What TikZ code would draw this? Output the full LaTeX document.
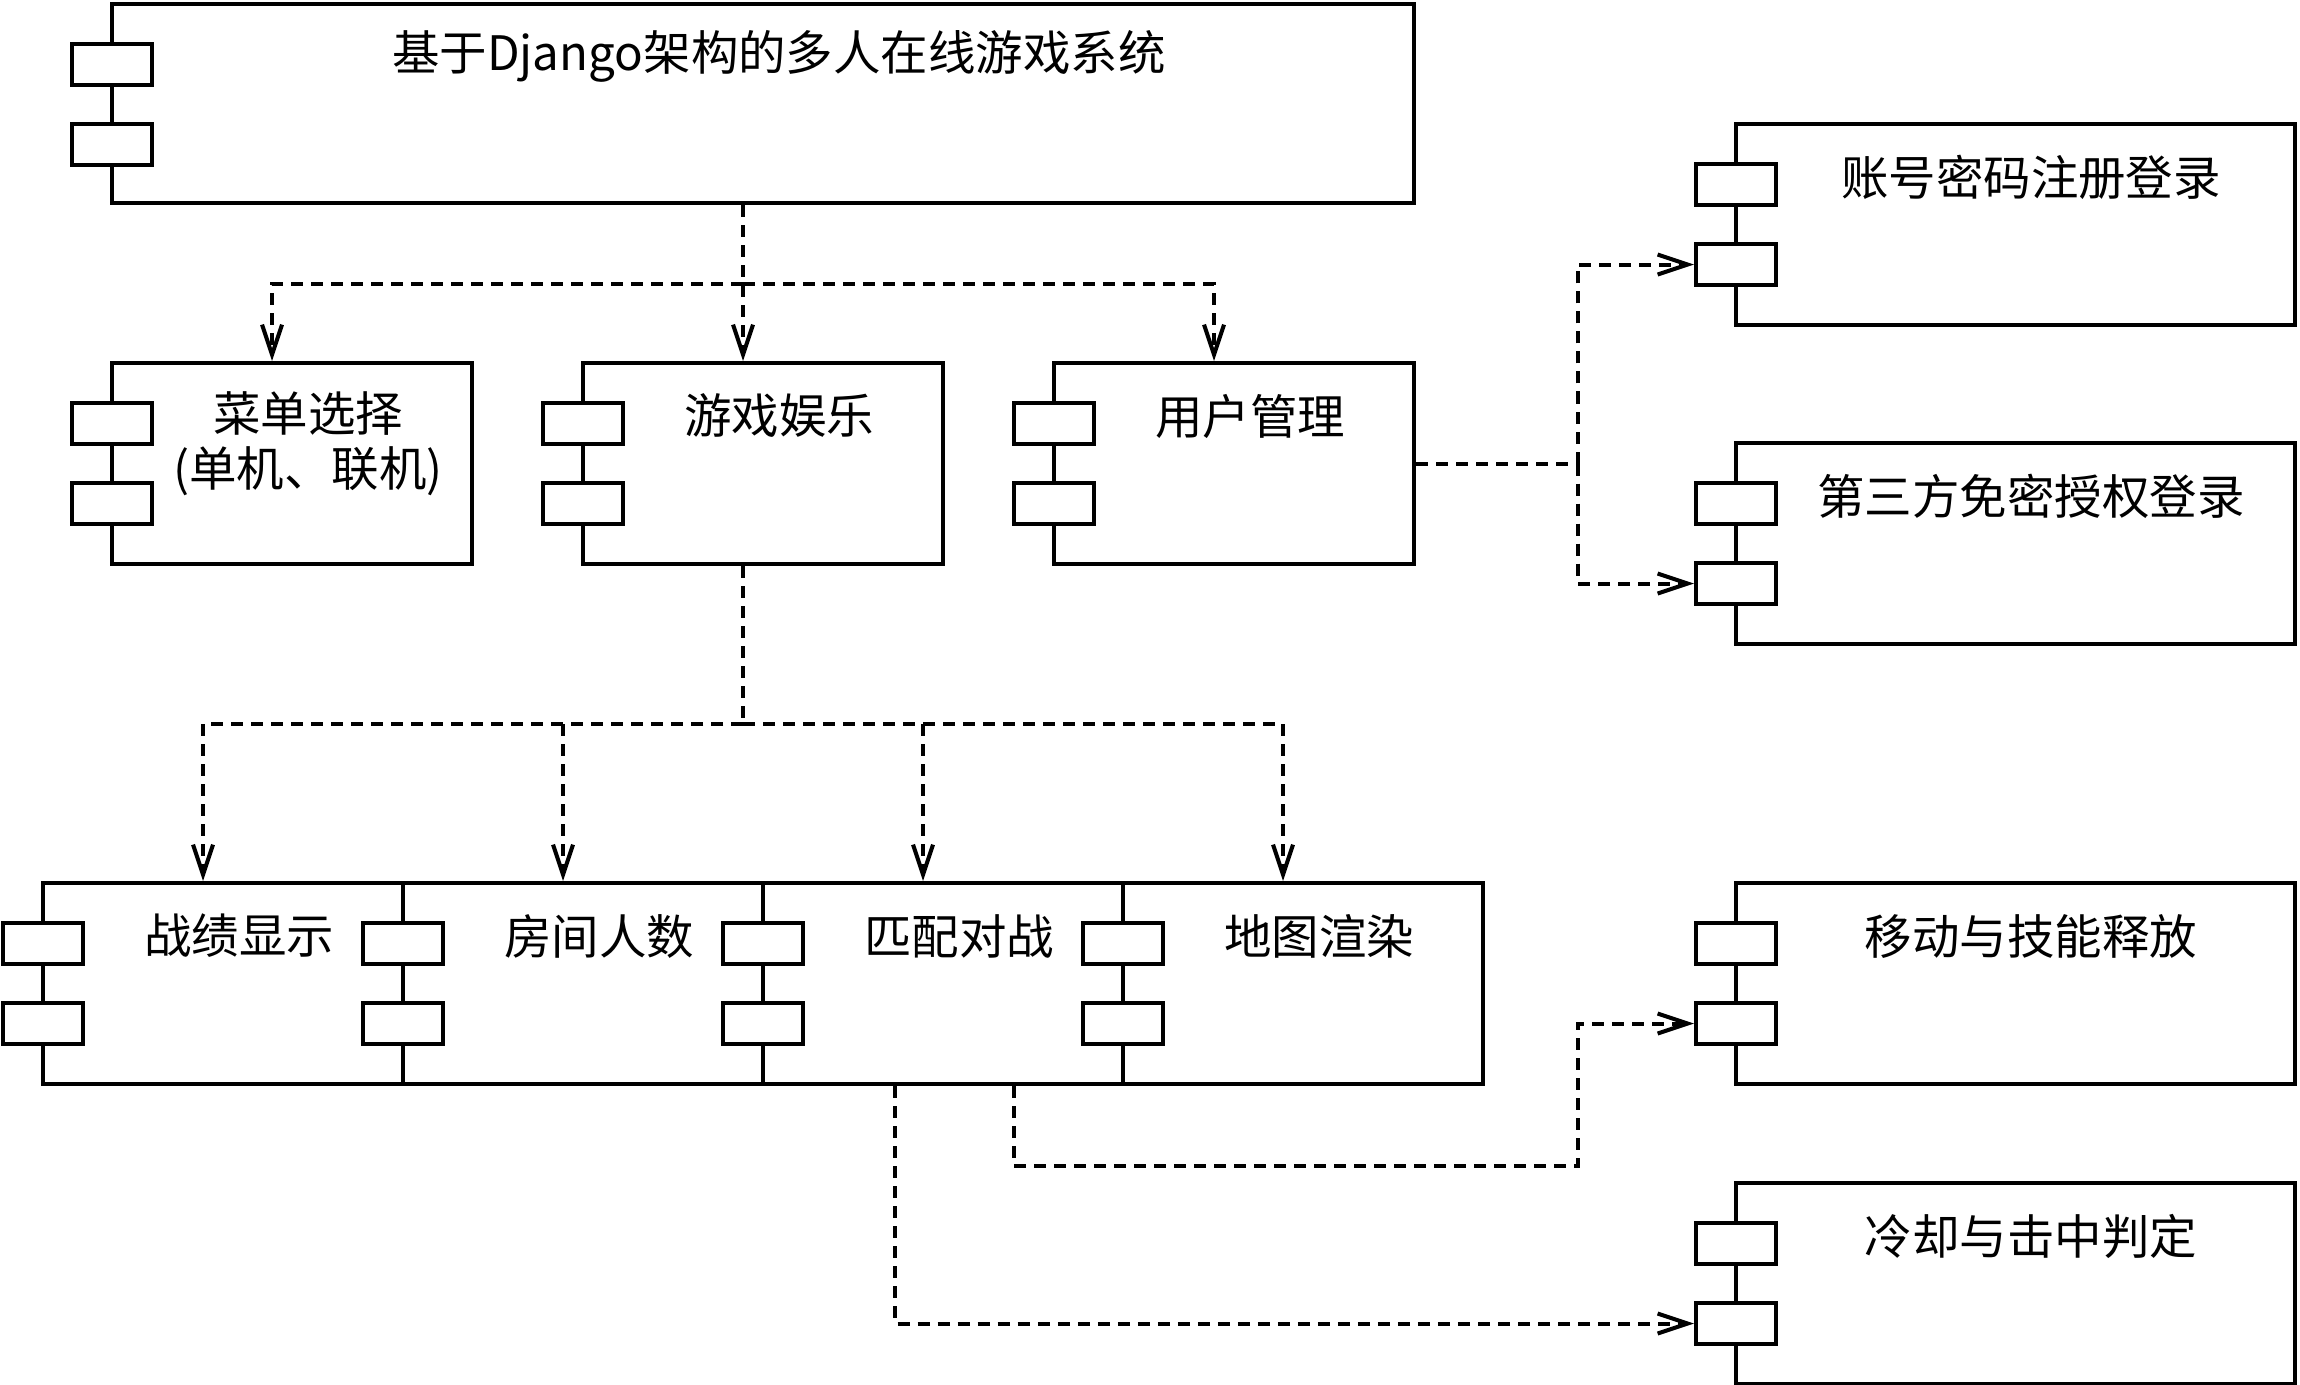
\documentclass[tikz,border=0pt]{standalone}
\usepackage{fontspec}
\setmainfont{Noto Sans CJK SC}
\usetikzlibrary{arrows.meta,calc}
\begin{document}
\begin{tikzpicture}[x=0.01cm,y=-0.01cm,
  lw/.style={line width=1.15pt},
  comp/.style={draw,lw,fill=white,rectangle,inner sep=0pt,minimum height=2.01cm,anchor=north west},
  port/.style={draw,lw,fill=white,rectangle,inner sep=0pt,minimum width=0.8cm,minimum height=0.41cm,anchor=north west},
  lbl/.style={font=\fontsize{13.5pt}{15.6pt}\selectfont,align=center,anchor=center,inner sep=0pt},
  ln/.style={lw,dash pattern=on 0.12cm off 0.08cm},
  dep/.style={ln,-{Straight Barb[length=0.3cm,width=0.2cm]}}
]
\useasboundingbox (0,0) rectangle (2300,1384);

% component: name, left, top, width, height
\newcommand{\component}[5]{%
  \node[comp,minimum width=#4*0.01cm,minimum height=#5*0.01cm] (#1) at (#2,#3) {};
  \node[port] (#1-p1) at (#2-40,#3+40) {};
  \node[port] (#1-p2) at (#2-40,#3+120) {};
}

% top level system
\component{sys}{110}{2}{1302}{199}
\node[lbl] (sys-t) at (779,56) {基于Django架构的多人在线游戏系统};

% second level
\component{menu}{110}{361}{360}{201}
\component{game}{581}{361}{360}{201}
\component{user}{1052}{361}{360}{201}
\node[lbl] (menu-t) at (308,444) {菜单选择\\(单机、联机)};
\node[lbl] (game-t) at (779,416) {游戏娱乐};
\node[lbl] (user-t) at (1250,416) {用户管理};

% game sub-modules
\component{r1}{41}{881}{360}{201}
\component{r2}{401}{881}{360}{201}
\component{r3}{761}{881}{360}{201}
\component{r4}{1121}{881}{360}{201}
% redraw ports above the neighbouring bodies
\foreach \n in {r2,r3,r4}{
  \node[port] at (\n-p1.north west) {};
  \node[port] at (\n-p2.north west) {};
}
\node[lbl] (r1-t) at (239,936) {战绩显示};
\node[lbl] (r2-t) at (599,936) {房间人数};
\node[lbl] (r3-t) at (959,936) {匹配对战};
\node[lbl] (r4-t) at (1319,936) {地图渲染};

% right column
\component{acct}{1734}{122}{559}{201}
\component{third}{1734}{441}{559}{201}
\component{move}{1734}{881}{559}{201}
\component{cool}{1734}{1181}{559}{201}
\node[lbl] (acct-t) at (2031,177) {账号密码注册登录};
\node[lbl] (third-t) at (2031,496) {第三方免密授权登录};
\node[lbl] (move-t) at (2031,936) {移动与技能释放};
\node[lbl] (cool-t) at (2031,1236) {冷却与击中判定};

% system -> second level
\coordinate (sys-out) at ($(sys.south)+(-20,0)$);
\path (sys-out) ++(0,79) coordinate (j1);
\draw[dep] (sys-out) -- ($(game.north)+(-20,0)$);
\draw[dep] (j1) -| ($(menu.north)+(-20,0)$);
\draw[dep] (j1) -| ($(user.north)+(-20,0)$);

% game -> sub-modules
\coordinate (game-out) at ($(game.south)+(-20,0)$);
\path (game-out) ++(0,158) coordinate (j2);
\draw[ln] (game-out) -- (j2);
\foreach \n in {r1,r2,r3,r4}
  \draw[dep] (j2) -| ($(\n.north)+(-20,0)$);

% user management -> login modes
\path (user.east) ++(162,0) coordinate (j3);
\draw[ln] (user.east) -- (j3);
\draw[dep] (j3) |- (acct-p2.west);
\draw[dep] (j3) |- (third-p2.west);

% match -> movement / cooldown
\coordinate (m-out1) at ($(r3.south)+(71,0)$);
\coordinate (m-out2) at ($(r3.south)+(-48,0)$);
\path (m-out1) ++(0,80) coordinate (k1);
\path (k1 -| j3) coordinate (k2);
\draw[dep] (m-out1) -- (k1) -- (k2) |- (move-p2.west);
\draw[dep] (m-out2) |- (cool-p2.west);
\end{tikzpicture}
\end{document}
